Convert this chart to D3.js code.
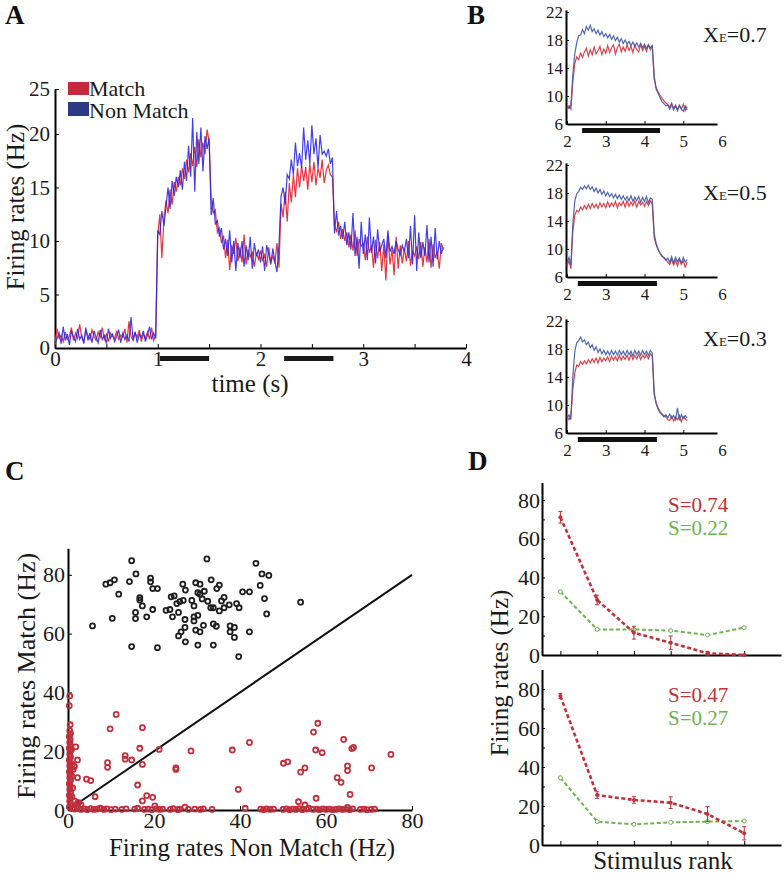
<!DOCTYPE html>
<html>
<head>
<meta charset="utf-8">
<script src="https://cdnjs.cloudflare.com/ajax/libs/d3/7.8.5/d3.min.js"></script>
<style>
body { margin: 0; background: #fff; }
svg { font-family: "Liberation Serif", "Times New Roman", serif; }
</style>
</head>
<body>
<svg id="fig" width="784" height="875"></svg>
<script>
// ---------- data ----------
// Panel A: population firing rates, one sample every 20 ms from t = 0
var aMatch = [
  0.3, 1.8, 0.9, 1.2, 0.6, 1.5, 0.8, 1.1, 1.9, 0.7,
  1.4, 0.9, 2.2, 1.0, 0.6, 1.6, 1.2, 0.8, 1.7, 1.1,
  0.7, 1.5, 1.0, 1.9, 0.8, 1.3, 0.6, 1.4, 1.1, 0.9,
  1.6, 0.8, 1.2, 1.0, 1.8, 0.5, 2.5, 1.1, 0.7, 1.4,
  1.0, 1.7, 0.6, 1.3, 0.9, 1.5, 0.8, 1.9, 0.7, 1.2,
  10.5, 12.5, 8.4, 12.0, 13.8, 12.6, 14.8, 13.4, 15.5, 14.6,
  16.0, 15.2, 16.8, 15.8, 17.6, 16.4, 18.2, 17.0, 18.8, 16.9,
  19.5, 17.8, 19.2, 18.1, 20.4, 19.3, 13.9, 12.6, 12.9, 10.8,
  11.2, 9.8, 10.5, 8.4, 10.1, 7.3, 9.6, 8.8, 10.3, 8.1,
  9.4, 8.0, 10.6, 7.8, 9.2, 8.5, 9.0, 7.6, 8.9, 8.3,
  9.1, 8.2, 8.7, 7.6, 9.4, 8.0, 8.6, 7.9, 9.8, 7.5,
  13.5, 12.2, 14.6, 11.8, 15.4, 13.6, 16.2, 14.1, 16.8, 15.0,
  17.0, 15.6, 16.9, 14.8, 17.2, 15.5, 17.4, 15.2, 16.8, 15.9,
  17.6, 15.4, 16.6, 17.1, 16.2, 16.0, 11.4, 10.9, 11.8, 10.2,
  11.1, 10.0, 10.8, 9.4, 10.6, 9.1, 11.0, 8.6, 10.2, 9.5,
  9.8, 8.2, 10.4, 8.9, 9.6, 7.5, 10.1, 8.4, 9.9, 7.2,
  9.7, 6.3, 10.5, 7.8, 9.2, 6.8, 10.4, 7.4, 9.6, 7.9,
  9.3, 8.1, 10.0, 7.7, 9.1, 8.6, 9.5, 8.3, 9.9, 7.6,
  9.4, 8.0, 10.2, 7.5, 9.7, 8.4, 9.0, 7.4, 9.8, 9.2
];
var aNonMatch = [
  0.5, 0.9, 1.4, 0.4, 2.0, 0.7, 1.3, 0.3, 1.6, 1.0,
  0.6, 1.8, 0.8, 1.2, 0.4, 1.9, 0.7, 1.4, 0.5, 1.6,
  1.0, 0.5, 1.7, 0.8, 1.2, 0.4, 1.8, 0.9, 1.3, 0.6,
  1.1, 1.7, 0.5, 1.4, 0.8, 1.2, 0.6, 2.9, 0.8, 1.5,
  0.5, 1.3, 1.0, 1.6, 0.6, 1.2, 2.0, 0.8, 1.4, 0.9,
  11.0, 10.6, 12.8, 11.4, 13.2, 15.0, 13.0, 15.6, 14.2, 16.0,
  15.0, 16.6, 14.8, 17.4, 15.6, 18.9, 16.0, 21.5, 14.6, 20.2,
  17.2, 20.6, 16.5, 19.8, 18.6, 19.6, 12.4, 14.0, 11.6, 11.9,
  10.4, 11.2, 9.2, 10.2, 8.6, 11.0, 8.0, 10.0, 7.2, 9.8,
  8.4, 10.0, 7.6, 9.6, 8.2, 10.4, 7.4, 9.8, 8.6, 9.2,
  8.0, 9.5, 7.2, 9.6, 8.8, 7.8, 9.3, 8.1, 7.1, 9.7,
  14.2, 15.0, 13.4, 16.2, 15.8, 17.6, 16.2, 19.2, 17.0, 18.2,
  16.8, 20.6, 17.6, 19.4, 17.2, 20.8, 18.1, 19.6, 16.8, 19.9,
  18.1, 18.4, 17.9, 18.6, 17.2, 17.8, 10.7, 12.8, 10.5, 11.4,
  10.2, 11.8, 9.6, 10.8, 9.2, 12.6, 8.6, 10.4, 7.4, 11.8,
  8.8, 10.6, 8.2, 12.2, 8.9, 10.4, 7.9, 11.1, 9.0, 9.6,
  10.2, 8.4, 11.0, 9.0, 9.5, 8.8, 10.0, 9.2, 8.7, 9.6,
  9.0, 10.2, 8.4, 11.4, 7.8, 12.4, 7.2, 10.8, 8.4, 9.9,
  8.6, 11.5, 8.0, 10.4, 7.6, 11.2, 8.3, 10.0, 8.8, 9.4
];
var tA = d3.range(aMatch.length).map(function (i) { return i * 0.02; });
var aStim = [[1.02, 1.5], [2.23, 2.71]];
var aXTicks = [0, 0.5, 1, 1.5, 2, 2.5, 3, 3.5, 4];

// Panel B: one sample every 50 ms from t = 2 s
var bMatch07 = [
  8.3, 8.6, 8.1, 12.0, 14.6, 15.6, 15.2, 16.1, 15.5, 16.3,
  16.8, 15.7, 16.6, 15.9, 17.0, 16.0, 16.5, 17.1, 15.9, 16.7,
  16.1, 17.2, 16.2, 16.9, 17.3, 16.0, 16.9, 17.4, 16.3, 17.0,
  16.4, 17.3, 16.5, 17.1, 16.2, 17.3, 16.6, 16.3, 17.4, 16.5,
  17.1, 16.4, 17.3, 16.6, 17.2,
  12.4, 11.2, 10.6, 10.1, 9.7, 9.3, 9.0, 8.8,
  8.4, 9.0, 8.2, 8.7, 8.0, 8.6, 8.2, 8.8, 7.9, 8.5
];
var bNon07 = [
  8.5, 8.2, 8.7, 13.0, 16.0, 17.6, 18.6, 18.7, 19.5, 18.9,
  19.9, 19.4, 20.1, 19.2, 19.6, 18.9, 19.4, 18.7, 19.2, 18.5,
  18.9, 18.3, 18.8, 18.1, 18.6, 17.9, 18.4, 17.7, 18.2, 17.5,
  18.0, 17.4, 17.8, 17.2, 17.7, 17.1, 17.6, 17.0, 17.5, 16.9,
  17.4, 16.8, 17.3, 16.9, 17.2,
  12.8, 11.0, 10.4, 9.8, 9.2, 8.9, 8.6, 8.7,
  8.1, 8.8, 8.0, 8.6, 7.9, 8.7, 8.1, 7.8, 8.6, 8.0
];
var bMatch05 = [
  7.6, 8.3, 7.2, 12.5, 14.8, 15.5, 15.3, 16.0, 15.6, 16.2,
  15.7, 16.4, 15.8, 16.5, 15.9, 16.4, 15.8, 16.6, 16.0, 16.5,
  15.9, 16.7, 16.0, 16.6, 16.1, 16.8, 15.9, 16.6, 16.2, 16.8,
  16.0, 16.9, 16.1, 16.7, 16.2, 16.9, 16.0, 16.8, 16.3, 16.7,
  16.1, 16.8, 16.2, 16.9, 16.4,
  11.6, 10.6, 9.9, 9.4, 9.0, 8.7, 8.5, 8.1,
  7.8, 8.5, 7.7, 8.4, 7.6, 8.5, 7.8, 8.3, 7.4, 8.1
];
var bNon05 = [
  8.0, 8.8, 7.7, 13.5, 16.8, 17.9, 18.2, 18.8, 18.5, 19.0,
  18.6, 19.1, 18.5, 18.9, 18.2, 18.7, 18.0, 18.5, 17.8, 18.3,
  17.6, 18.1, 17.5, 17.9, 17.3, 17.8, 17.2, 17.7, 17.1, 17.6,
  17.0, 17.5, 16.9, 17.6, 16.8, 17.4, 16.9, 17.5, 16.7, 17.4,
  16.8, 17.5, 16.6, 17.3, 17.1,
  12.2, 10.8, 10.0, 9.4, 9.0, 8.8, 8.4, 8.7,
  8.1, 8.9, 8.0, 8.8, 8.2, 8.7, 8.0, 8.8, 8.1, 8.5
];
var bMatch03 = [
  8.4, 7.9, 8.5, 12.2, 14.6, 15.7, 15.5, 16.2, 15.8, 16.3,
  15.9, 16.5, 16.0, 16.6, 16.1, 16.7, 16.0, 16.8, 16.2, 16.7,
  16.3, 16.9, 16.2, 17.0, 16.4, 16.9, 16.3, 17.1, 16.4, 17.0,
  16.5, 17.1, 16.4, 17.2, 16.5, 17.1, 16.6, 17.2, 16.5, 17.1,
  16.7, 17.2, 16.6, 17.3, 17.0,
  11.4, 10.3, 9.6, 9.1, 8.7, 8.5, 8.3, 7.9,
  7.8, 8.4, 7.7, 8.3, 7.9, 8.5, 7.6, 8.3, 8.0, 7.8
];
var bNon03 = [
  8.1, 8.6, 7.9, 14.0, 17.6, 18.9, 19.2, 19.7, 19.0, 19.3,
  18.6, 19.0, 18.2, 18.6, 17.8, 18.3, 17.5, 18.0, 17.3, 17.8,
  17.2, 17.7, 17.1, 17.8, 17.2, 17.7, 17.1, 17.8, 17.2, 17.7,
  17.1, 17.8, 17.2, 17.7, 17.0, 17.8, 17.2, 17.7, 17.1, 17.8,
  17.2, 17.7, 17.1, 17.8, 17.4,
  11.8, 10.2, 9.4, 8.9, 8.6, 8.3, 8.6, 8.2,
  8.7, 8.1, 8.5, 7.9, 9.6, 7.8, 8.6, 8.1, 8.5, 8.2
];
var tB = d3.range(bMatch07.length).map(function (i) { return 2 + i * 0.05; });
var bXE = ["0.7", "0.5", "0.3"];
var bStim = [[2.39, 4.40], [2.28, 4.32], [2.28, 4.32]];
var bYTicks = [6, 10, 14, 18, 22];
var bXTicks = [2, 3, 4, 5, 6];

// Panel C: [non match, match] firing rates
var cBlackPts = [
  [14.8,84.8],[32.3,85.4],[43.7,83.9],[15.8,80.3],[8.8,76.8],[9.8,77.3],[10.8,78.3],[14.3,77.7],
  [19.2,78.9],[19.2,77.6],[19.7,75.3],[20.8,75.3],[11.8,73.4],[16.7,72.2],[16.7,71.4],[17.3,69.4],
  [15.7,67.2],[15.7,65.1],[19.7,68.2],[18.3,65.7],[10.3,65.2],[5.7,62.6],[14.8,55.6],[20.8,55.2],
  [26.7,76.8],[27.3,74.8],[24.7,72.8],[25.3,70.2],[26.8,71.3],[23.7,68.2],[25.7,67.2],[24.3,65.7],
  [28.8,71.3],[29.3,69.4],[29.7,77.3],[30.7,76.8],[30.2,73.9],[30.7,73.4],[31.2,71.8],[31.7,74.4],
  [33.3,78.3],[35.2,76.5],[34.6,75.3],[33.2,68.8],[33.8,68.8],[36.3,72.3],[35.7,71.1],[35.2,67.7],
  [36.3,68.8],[27.2,64.8],[29.3,65.7],[29.3,64.3],[27.2,62.1],[26.3,60.6],[25.7,59.2],[29.7,61.2],
  [30.7,60.6],[33.8,63.3],[27.3,57.2],[30.2,56.1],[33.8,56.1],[39.2,70.2],[39.8,68.8],[40.6,74.2],
  [42.2,74.2],[44.7,76.4],[45.1,80.3],[46.7,79.8],[45.7,71.9],[46.2,66.7],[37.7,62.6],[38.7,62.1],
  [37.7,60.6],[38.7,58.7],[42.2,60.6],[39.7,52.2],[54.1,70.7],[31.5,62.8],[26.0,70.9],[24.0,72.5],
  [32.5,71.0],[37.5,69.8],[22.8,67.9],[30.2,66.2],[34.5,62.5]
];
var cRedPts = [
  [0.4,38.8],[0.3,35.5],[0.5,29],[0.4,27],[0.6,26],[0.3,25],[0.5,24],[0.4,23],[0.6,22],[0.3,21],
  [0.5,20],[0.4,19],[0.6,18],[0.3,17],[0.5,16],[0.4,15],[0.6,14],[0.3,13],[0.5,12],[0.4,11],
  [0.6,10],[0.3,9],[0.5,8],[0.4,7],[0.6,6],[0.3,5],[0.5,4],[0.4,3],[0.6,2],[0.3,1],[1.0,0.5],
  [0.8,20.5],[1.0,15.5],[1.2,13.8],[1.5,14.8],[0.9,11.5],[1.1,7.5],[0.9,4.5],[1.6,3.0],[2.5,2.5],
  [3.0,1.8],[2.0,1.2],[1.4,0.8],
  [1.8,21.5],[2.2,17],[2.2,11],[4.3,10.5],[5.3,10],[6.3,4.5],[11.2,32.5],[9.8,27.6],[17.3,28],
  [9.2,16.1],[9.2,14.5],[13.3,18.5],[13.3,17.3],[14.8,17],[16.7,21],[17.3,15.5],[21.2,20.6],
  [25.1,14.3],[25.1,13.8],[28.6,20.1],[16.2,8.5],[18.3,4.9],[19.7,4.3],[17.3,3.1],[20.2,1.4],
  [2.2,2.3],[38.2,20.4],[42.2,23],[39.6,7.0],[41.2,0.6],[50.1,15.9],[51.1,16.4],[54.1,12.9],
  [55.1,14.3],[57.1,26.5],[58.1,29.5],[57.6,20.4],[59.1,19.5],[57.7,4.0],[53.6,2.8],[55.1,1.7],
  [64.1,24.0],[66.4,21.3],[66.0,20.9],[65.0,15.0],[65.0,13.4],[62.6,11],[63.5,9.4],[65.6,5.3],
  [70.6,14.3],[75.1,18.9],[65.0,0.9],
  [1.5,0.3],[2.2,0.6],[3.0,0.2],[3.8,0.4],[4.5,0.1],[5.3,0.5],[6.0,0.2],[6.8,0.3],[7.5,0.6],
  [8.3,0.2],[9.0,0.4],[10.0,0.1],[11.0,0.3],[12.5,0.2],[13.5,0.4],[15.5,0.3],[16.2,0.6],[17.8,0.2],
  [18.6,0.3],[19.5,0.1],[20.5,0.4],[21.3,0.2],[22.0,0.3],[23.8,0.2],[24.5,0.5],[25.5,0.1],[26.0,0.3],
  [27.2,1.0],[28.0,0.2],[29.5,0.3],[30.8,0.2],[31.5,0.4],[33.5,0.2],[44.8,0.3],[45.5,0.1],[46.2,0.4],
  [47.0,0.2],[47.8,0.3],[50.0,0.2],[50.8,0.4],[51.5,0.1],[52.3,0.3],[53.0,0.2],[53.8,0.5],[54.5,0.1],
  [55.5,0.3],[56.0,0.6],[57.0,0.2],[57.8,0.3],[58.5,0.1],[59.3,0.4],[60.0,0.2],[60.8,0.3],[61.5,0.1],
  [62.3,0.2],[63.0,0.4],[63.8,0.2],[64.5,0.3],[65.5,0.1],[66.2,0.4],[68.0,0.2],[68.8,0.3],[69.5,0.1],
  [70.5,0.2],[71.3,0.3]
];
var cTicks = [0, 20, 40, 60, 80];

// Panel D: tuning curves against stimulus rank
var dRanks = [1, 2, 3, 4, 5, 6];
var dTopRed = [71.1, 28.4, 11.5, 6.3, 0.9, 0];
var dTopRedErr = [3, 2.5, 3.3, 3.5, 1, 0.3];
var dTopGreen = [32.7, 13.2, 13.2, 12.6, 10.3, 14.1];
var dBotRed = [76.4, 25.6, 23.1, 21.7, 15.9, 6.0];
var dBotRedErr = [1.3, 1.7, 1.7, 3, 3.8, 3.4];
var dBotGreen = [34.5, 12.0, 10.6, 11.6, 12.0, 12.3];
var dSTop = ["S=0.74", "S=0.22"];
var dSBot = ["S=0.47", "S=0.27"];
var dYTicks = [0, 10, 20, 30, 40, 50, 60, 70, 80];

// ---------- drawing ----------
var serif = '"Liberation Serif", "Times New Roman", serif';
var svg = d3.select("#fig");
svg.append("rect").attr("width", 784).attr("height", 875).attr("fill", "#fff");

function styleAxis(g, fs) {
    g.attr("font-family", serif);
    g.select(".domain").attr("stroke", "#000").attr("stroke-width", 2);
    g.selectAll(".tick line").attr("stroke", "#000").attr("stroke-width", 1);
    g.selectAll(".tick text").attr("font-size", fs).attr("fill", "#1a1a1a");
}

function panelLabel(t, x, y) {
    svg.append("text").attr("x", x).attr("y", y)
        .attr("font-family", serif).attr("font-weight", "bold")
        .attr("font-size", 27).attr("fill", "#111").text(t);
}

// ===== Panel A =====
var xA = d3.scaleLinear().domain([0, 4]).range([55, 466]);
var yA = d3.scaleLinear().domain([0, 24.2]).range([348, 89]);

var gAx = svg.append("g").attr("transform", "translate(0,348)")
    .call(d3.axisBottom(xA).tickValues(aXTicks).tickSize(-4).tickSizeOuter(0).tickPadding(3)
        .tickFormat(function (d) { return d % 1 === 0 ? d : ""; }));
styleAxis(gAx, 21);

var gAy = svg.append("g").attr("transform", "translate(55,0)")
    .call(d3.axisLeft(yA).tickValues([0, 5, 10, 15, 20, 24.2]).tickSize(-4).tickSizeOuter(0).tickPadding(5)
        .tickFormat(function (d) { return d > 24 ? "25" : d; }));
styleAxis(gAy, 21);

var lineA = d3.line()
    .x(function (d, i) { return xA(tA[i]); })
    .y(function (d) { return yA(d); });

svg.append("path").datum(aMatch).attr("d", lineA)
    .attr("fill", "none").attr("stroke", "#e8343a").attr("stroke-width", 1.2);
svg.append("path").datum(aNonMatch).attr("d", lineA)
    .attr("fill", "none").attr("stroke", "#2626e8").attr("stroke-width", 1.2).attr("opacity", 0.88);

svg.selectAll(".stimA").data(aStim).enter().append("rect")
    .attr("x", function (d) { return xA(d[0]); })
    .attr("width", function (d) { return xA(d[1]) - xA(d[0]); })
    .attr("y", 356).attr("height", 5).attr("fill", "#1a1a1a");

// legend
svg.append("rect").attr("x", 68).attr("y", 82).attr("width", 21).attr("height", 13).attr("fill", "#c6283c");
svg.append("rect").attr("x", 68).attr("y", 102).attr("width", 21).attr("height", 14).attr("fill", "#2c3a86");
svg.append("text").attr("x", 89).attr("y", 96).attr("font-family", serif).attr("font-size", 22)
    .attr("fill", "#1a1a1a").text("Match");
svg.append("text").attr("x", 89).attr("y", 118).attr("font-family", serif).attr("font-size", 22)
    .attr("fill", "#1a1a1a").text("Non Match");

svg.append("text").attr("transform", "translate(24,207) rotate(-90)")
    .attr("text-anchor", "middle").attr("font-family", serif).attr("font-size", 25)
    .attr("fill", "#1a1a1a").text("Firing rates (Hz)");
svg.append("text").attr("x", 250).attr("y", 392)
    .attr("text-anchor", "middle").attr("font-family", serif).attr("font-size", 25)
    .attr("fill", "#1a1a1a").text("time (s)");

panelLabel("A", 5, 24);

// ===== Panel B =====
var xB = d3.scaleLinear().domain([2, 5.87]).range([567, 717]);
var bRows = [
    { match: bMatch07, non: bNon07, y0: 124, labY: 42 },
    { match: bMatch05, non: bNon05, y0: 277, labY: 200 },
    { match: bMatch03, non: bNon03, y0: 433, labY: 346 }
];

bRows.forEach(function (row, k) {
    var yB = d3.scaleLinear().domain([6, 22.3]).range([row.y0, row.y0 - 16.3 * 7]);

    var gx = svg.append("g").attr("transform", "translate(0," + row.y0 + ")")
        .call(d3.axisBottom(xB).tickValues(bXTicks).tickSize(-3).tickSizeOuter(0).tickPadding(11)
            .tickFormat(d3.format("d")));
    styleAxis(gx, 17);
    gx.selectAll(".tick line").filter(function (d) { return d > 5.87; }).remove();

    var gy = svg.append("g").attr("transform", "translate(566,0)")
        .call(d3.axisLeft(yB).tickValues(bYTicks).tickSize(-3).tickSizeOuter(0).tickPadding(3));
    styleAxis(gy, 17);

    var lineB = d3.line()
        .x(function (d, i) { return xB(tB[i]); })
        .y(function (d) { return yB(d); });

    svg.append("path").datum(row.match).attr("d", lineB)
        .attr("fill", "none").attr("stroke", "#d8434c").attr("stroke-width", 1.2);
    svg.append("path").datum(row.non).attr("d", lineB)
        .attr("fill", "none").attr("stroke", "#3c58a6").attr("stroke-width", 1.2).attr("opacity", 0.9);

    svg.append("rect")
        .attr("x", xB(bStim[k][0])).attr("width", xB(bStim[k][1]) - xB(bStim[k][0]))
        .attr("y", row.y0 + 4).attr("height", 5).attr("fill", "#111");

    var lab = svg.append("text").attr("x", 703).attr("y", row.labY)
        .attr("font-family", serif).attr("fill", "#1a1a1a");
    lab.append("tspan").attr("font-size", 22).text("X");
    lab.append("tspan").attr("font-size", 13).text("E");
    lab.append("tspan").attr("font-size", 22).text("=" + bXE[k]);
});

panelLabel("B", 467, 24);

// ===== Panel C =====
var xC = d3.scaleLinear().domain([0, 80]).range([68, 412]);
var yC = d3.scaleLinear().domain([0, 89]).range([810, 810 - 89 * 2.94]);

var gCx = svg.append("g").attr("transform", "translate(0,810)")
    .call(d3.axisBottom(xC).tickValues(cTicks).tickSize(-4).tickSizeOuter(0).tickPadding(2));
styleAxis(gCx, 22);
var gCy = svg.append("g").attr("transform", "translate(68,0)")
    .call(d3.axisLeft(yC).tickValues(cTicks).tickSize(-4).tickSizeOuter(0).tickPadding(3));
styleAxis(gCy, 22);

svg.append("line")
    .attr("x1", xC(0)).attr("y1", yC(0)).attr("x2", xC(80)).attr("y2", yC(80))
    .attr("stroke", "#111").attr("stroke-width", 2);

svg.append("g").selectAll("circle").data(cBlackPts).enter().append("circle")
    .attr("cx", function (d) { return xC(d[0]); })
    .attr("cy", function (d) { return yC(d[1]); })
    .attr("r", 2.5).attr("fill", "none").attr("stroke", "#1e1e1e").attr("stroke-width", 1.8);

svg.append("g").selectAll("circle").data(cRedPts).enter().append("circle")
    .attr("cx", function (d) { return xC(d[0]); })
    .attr("cy", function (d) { return yC(d[1]); })
    .attr("r", 2.5).attr("fill", "none").attr("stroke", "#c0303c").attr("stroke-width", 1.8);

svg.append("text").attr("transform", "translate(35,676) rotate(-90)")
    .attr("text-anchor", "middle").attr("font-family", serif).attr("font-size", 26)
    .attr("fill", "#1a1a1a").text("Firing rates Match (Hz)");
svg.append("text").attr("x", 252).attr("y", 856)
    .attr("text-anchor", "middle").attr("font-family", serif).attr("font-size", 25)
    .attr("fill", "#1a1a1a").text("Firing rates Non Match (Hz)");

panelLabel("C", 5, 480);

// ===== Panel D =====
var xD = d3.scaleLinear().domain([0.5, 7]).range([542, 781]);
var dRows = [
    { red: dTopRed, err: dTopRedErr, green: dTopGreen, s: dSTop, y0: 655, top: 89, pxu: 1.9375, sY: 512 },
    { red: dBotRed, err: dBotRedErr, green: dBotGreen, s: dSBot, y0: 845, top: 90, pxu: 1.95, sY: 702 }
];

dRows.forEach(function (row) {
    var yD = d3.scaleLinear().domain([0, row.top]).range([row.y0, row.y0 - row.top * row.pxu]);

    var gx = svg.append("g").attr("transform", "translate(0," + row.y0 + ")")
        .call(d3.axisBottom(xD).tickValues(dRanks).tickSize(-4).tickSizeOuter(0).tickFormat(""));
    styleAxis(gx, 22);
    var gy = svg.append("g").attr("transform", "translate(542,0)")
        .call(d3.axisLeft(yD).tickValues(dYTicks).tickSize(-3).tickSizeOuter(0).tickPadding(2)
            .tickFormat(function (d) { return d % 20 === 0 ? d : ""; }));
    styleAxis(gy, 22);

    var lineD = d3.line()
        .x(function (d, i) { return xD(dRanks[i]); })
        .y(function (d) { return yD(d); });

    svg.append("path").datum(row.green).attr("d", lineD)
        .attr("fill", "none").attr("stroke", "#6cb24e").attr("stroke-width", 2)
        .attr("stroke-dasharray", "4,2.5");
    svg.append("g").selectAll("circle").data(row.green).enter().append("circle")
        .attr("cx", function (d, i) { return xD(dRanks[i]); })
        .attr("cy", function (d) { return yD(d); })
        .attr("r", 2).attr("fill", "#fff").attr("stroke", "#6cb24e").attr("stroke-width", 1);

    svg.append("path").datum(row.red).attr("d", lineD)
        .attr("fill", "none").attr("stroke", "#c2303a").attr("stroke-width", 2.6)
        .attr("stroke-dasharray", "4,2.5");

    var eb = svg.append("g").attr("stroke", "#c2303a").attr("stroke-width", 1);
    row.red.forEach(function (v, i) {
        var cx = xD(dRanks[i]);
        eb.append("line").attr("x1", cx).attr("x2", cx)
            .attr("y1", yD(v - row.err[i])).attr("y2", yD(v + row.err[i]));
        eb.append("line").attr("x1", cx - 2).attr("x2", cx + 2)
            .attr("y1", yD(v - row.err[i])).attr("y2", yD(v - row.err[i]));
        eb.append("line").attr("x1", cx - 2).attr("x2", cx + 2)
            .attr("y1", yD(v + row.err[i])).attr("y2", yD(v + row.err[i]));
    });
    svg.append("g").selectAll("circle").data(row.red).enter().append("circle")
        .attr("cx", function (d, i) { return xD(dRanks[i]); })
        .attr("cy", function (d) { return yD(d); })
        .attr("r", 2).attr("fill", "#c2303a");

    svg.append("text").attr("x", 668).attr("y", row.sY)
        .attr("font-family", serif).attr("font-size", 21).attr("fill", "#c2303a").text(row.s[0]);
    svg.append("text").attr("x", 668).attr("y", row.sY + 23)
        .attr("font-family", serif).attr("font-size", 21).attr("fill", "#6cb24e").text(row.s[1]);
});

svg.append("text").attr("transform", "translate(508,673) rotate(-90)")
    .attr("text-anchor", "middle").attr("font-family", serif).attr("font-size", 25)
    .attr("fill", "#1a1a1a").text("Firing rates (Hz)");
svg.append("text").attr("x", 663).attr("y", 869)
    .attr("text-anchor", "middle").attr("font-family", serif).attr("font-size", 25)
    .attr("fill", "#1a1a1a").text("Stimulus rank");

panelLabel("D", 468, 470);
</script>
</body>
</html>
